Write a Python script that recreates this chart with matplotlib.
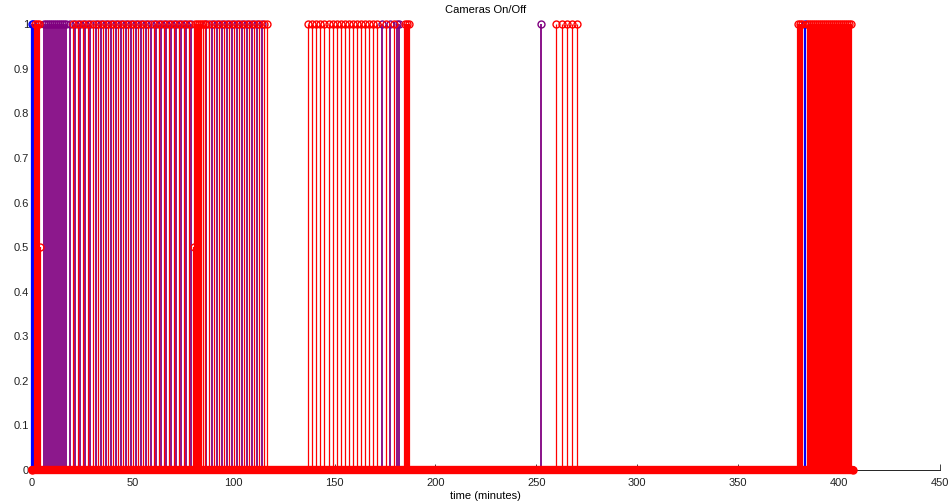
import numpy as np
import matplotlib
matplotlib.use("Agg")
import matplotlib.pyplot as plt

plt.rcParams['font.family'] = ['Liberation Sans', 'DejaVu Sans']

# camera A (blue)
blue_t = [0, 0.5, 383]
blue_v = [1, 1, 1]

# camera B (purple)
purple_t = [6, 7, 8, 9, 10, 11, 12, 13, 14, 15, 16, 17,
            19, 21.5, 24, 26.5, 29, 31.5, 34, 36.5, 39, 41.5, 44, 46.5, 49,
            51.5, 54, 56.5, 59, 61.5, 64, 66.5, 69, 71.5, 74, 76.5, 79,
            86.5, 89, 91.5, 94, 96.5, 99, 101.5, 104, 106.5, 109, 111.5, 114,
            173.5, 177.5, 181, 182, 252.5]
purple_v = [1] * len(purple_t)

# camera C (red), isolated switch-ons
red_thin_t = [20.25, 22.75, 25.25, 27.75, 30.25, 32.75, 35.25, 37.75, 40.25,
              42.75, 45.25, 47.75, 50.25, 52.75, 55.25, 57.75, 60.25, 62.75,
              65.25, 67.75, 70.25, 72.75, 75.25, 77.75,
              85, 86, 87.75, 90.25, 92.75, 95.25, 97.75, 100.25, 102.75,
              105.25, 107.75, 110.25, 112.75, 115.25, 116.5,
              137, 139, 141, 143, 145, 147, 149, 151, 153, 155, 157, 159, 161,
              163, 165, 167, 169, 171, 175.5, 179.5,
              260, 262.5, 265, 267.5, 270, 384]
red_thin_v = [1] * len(red_thin_t)

# camera C (red), continuous runs and off samples
red_run_t = [0, 1.5, 2.5, 3.5, 4, 80.5, 81, 82, 83, 84, 185, 186, 187,
             379.5, 380.5, 381.5,
             385, 386, 387, 388, 389, 390, 391, 392, 393, 394, 395, 396, 397,
             398, 399, 400, 401, 402, 403, 404, 405, 406, 407]
red_run_v = [0, 1, 1, 1, 0.5, 0.5, 1, 1, 1, 1, 1, 1, 1,
             1, 1, 1,
             1, 1, 1, 1, 1, 1, 1, 1, 1, 1, 1, 1, 1,
             1, 1, 1, 1, 1, 1, 1, 1, 1, 0]

purple = (0.5, 0, 0.5)

fig = plt.figure(figsize=(9.51, 5.04), dpi=100)
ax = fig.add_axes([0.0336, 0.0675, 0.9546, 0.8845])


def draw_stem(t, v, color, lw, ms, base_lw=0, z=2):
    m, s, b = ax.stem(t, v)
    s.set_color(color)
    s.set_linewidth(lw)
    s.set_zorder(z)
    m.set_color(color)
    m.set_markerfacecolor('none')
    m.set_markersize(ms)
    m.set_markeredgewidth(1.0)
    m.set_zorder(z + 0.1)
    b.set_color(color)
    b.set_linewidth(base_lw)
    b.set_zorder(z + 1)
    for a in (m, s, b):
        a.set_clip_on(False)
    return m, s, b


draw_stem(blue_t, blue_v, 'blue', 1.6, 5, z=3)
draw_stem(purple_t, purple_v, purple, 1.3, 5, z=3.2)
draw_stem(red_thin_t, red_thin_v, 'red', 0.9, 5, z=4)
m, s, b = draw_stem(red_run_t, red_run_v, 'red', 1.6, 5, base_lw=6, z=5)
b.set_solid_capstyle('round')

ax.set_xlim(0, 450)
ax.set_ylim(0, 1)
ax.set_xticks([0, 50, 100, 150, 200, 250, 300, 350, 400, 450])
ax.set_yticks([0, 0.1, 0.2, 0.3, 0.4, 0.5, 0.6, 0.7, 0.8, 0.9, 1])
ax.set_yticklabels(['0', '0.1', '0.2', '0.3', '0.4', '0.5', '0.6', '0.7',
                    '0.8', '0.9', '1'])
ax.tick_params(direction='in', length=4, width=0.6, labelsize=8,
               colors='#222222')
ax.tick_params(axis='x', pad=6)
ax.tick_params(axis='y', pad=2)
ax.spines['top'].set_visible(False)
ax.spines['right'].set_visible(False)
ax.spines['left'].set_linewidth(0.6)
ax.spines['bottom'].set_linewidth(0.6)
ax.set_title('Cameras On/Off', fontsize=8, pad=8)
ax.set_xlabel('time (minutes)', fontsize=8, labelpad=2)

fig.savefig('out.png', dpi=100)
